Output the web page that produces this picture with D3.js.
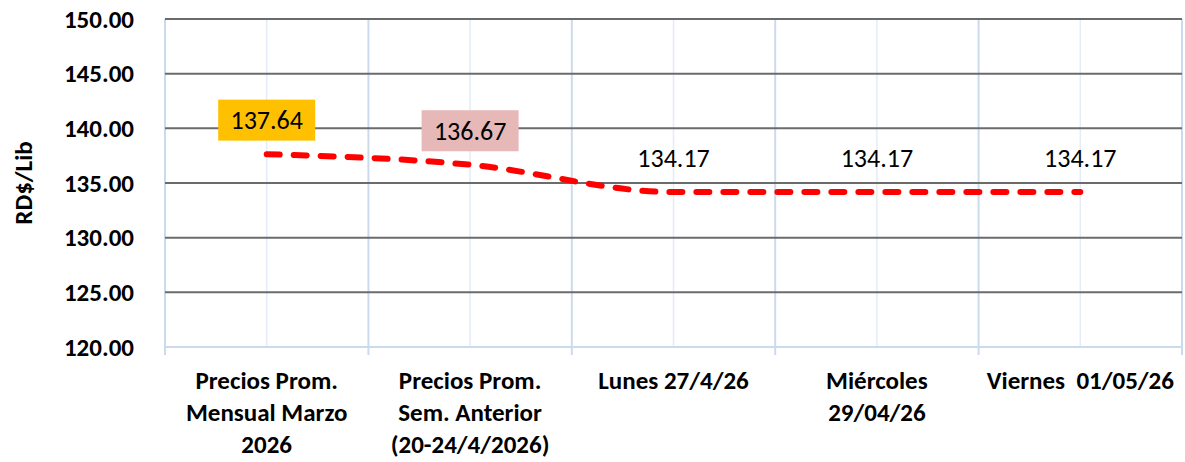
<!DOCTYPE html>
<html>
<head>
<meta charset="utf-8">
<script src="https://cdn.jsdelivr.net/npm/d3@7"></script>
<style>
  body { margin: 0; background: #fff; }
  svg { display: block; font-family: Carlito, Lato, "Open Sans", sans-serif; }
</style>
</head>
<body>
<div id="chart"></div>
<script>
// chart values
const categories = [
    ['Precios Prom.', 'Mensual Marzo', '2026'],
    ['Precios Prom.', 'Sem. Anterior', '(20-24/4/2026)'],
    ['Lunes 27/4/26'],
    ['Miércoles', '29/04/26'],
    ['Viernes  01/05/26']
];
const prices = [137.64, 136.67, 134.17, 134.17, 134.17];
const labelFills = ['#FFC000', '#E6B8B7', null, null, null];
const yTicks = [120, 125, 130, 135, 140, 145, 150];

const width = 1185, height = 462;
const margin = { top: 19, right: 3, bottom: 115, left: 165 };

const svg = d3.select('#chart')
    .append('svg')
    .attr('width', width)
    .attr('height', height);

const x = d3.scaleBand()
    .domain(d3.range(categories.length))
    .range([margin.left, width - margin.right])
    .padding(0);

const y = d3.scaleLinear()
    .domain([120, 150])
    .range([height - margin.bottom, margin.top]);

const cx = i => x(i) + x.bandwidth() / 2;

// vertical grid: category edges a bit darker than centers
let edges = d3.range(categories.length + 1).map(i => i < categories.length ? x(i) : x.range()[1]);

svg.append('g')
    .selectAll('line')
    .data(d3.range(categories.length))
    .join('line')
    .attr('x1', d => cx(d)).attr('x2', d => cx(d))
    .attr('y1', y(150)).attr('y2', y(120))
    .attr('stroke', '#E4ECF7')
    .attr('stroke-width', 1.5);

svg.append('g')
    .selectAll('line')
    .data(edges)
    .join('line')
    .attr('x1', d => d).attr('x2', d => d)
    .attr('y1', y(150)).attr('y2', y(120) + 8)
    .attr('stroke', '#CCDAEE')
    .attr('stroke-width', 2);

// horizontal grid
svg.append('g')
    .selectAll('line')
    .data(yTicks.filter(d => d > 120))
    .join('line')
    .attr('x1', margin.left).attr('x2', width - margin.right)
    .attr('y1', d => y(d)).attr('y2', d => y(d))
    .attr('stroke', '#6B6B6B')
    .attr('stroke-width', 2);

// bottom axis line
svg.append('line')
    .attr('x1', margin.left).attr('x2', width - margin.right)
    .attr('y1', y(120)).attr('y2', y(120))
    .attr('stroke', '#CCDAEE')
    .attr('stroke-width', 2);

// y labels
svg.append('g')
    .attr('font-size', 25)
    .attr('font-weight', 'bold')
    .attr('text-anchor', 'end')
    .selectAll('text')
    .data(yTicks)
    .join('text')
    .attr('x', 134)
    .attr('y', d => y(d))
    .attr('dy', '0.35em')
    .text(d => d.toFixed(2));

svg.append('text')
    .attr('transform', `translate(32, ${(y(150) + y(120)) / 2}) rotate(-90)`)
    .attr('text-anchor', 'middle')
    .attr('font-size', 25)
    .attr('font-weight', 'bold')
    .text('RD$/Lib');

// x labels
svg.append('g')
    .attr('font-size', 25)
    .attr('font-weight', 'bold')
    .attr('text-anchor', 'middle')
    .selectAll('text')
    .data(categories)
    .join('text')
    .attr('xml:space', 'preserve')
    .attr('x', (d, i) => cx(i))
    .attr('y', 389)
    .selectAll('tspan')
    .data(d => d)
    .join('tspan')
    .attr('x', function () { return this.parentNode.getAttribute('x'); })
    .attr('dy', (d, i) => i === 0 ? 0 : 32)
    .text(d => d.replace(/ {2}/g, ' \u00A0'));

// price line
const line = d3.line()
    .x((d, i) => cx(i))
    .y(d => y(d))
    .curve(d3.curveMonotoneX);

svg.append('path')
    .datum(prices)
    .attr('d', line)
    .attr('fill', 'none')
    .attr('stroke', '#FF0000')
    .attr('stroke-width', 6)
    .attr('stroke-linecap', 'round')
    .attr('stroke-dasharray', '13,14');

// data labels
const labels = svg.append('g')
    .selectAll('g')
    .data(prices.map((v, i) => ({ v, i })))
    .join('g')
    .attr('transform', d => `translate(${cx(d.i)}, ${y(d.v) - 34})`);

labels.filter(d => labelFills[d.i])
    .append('rect')
    .attr('x', -48.5).attr('y', -20.5)
    .attr('width', 97).attr('height', 41)
    .attr('fill', d => labelFills[d.i]);

labels.append('text')
    .attr('text-anchor', 'middle')
    .attr('dy', '0.35em')
    .attr('font-size', 26)
    .text(d => d.v.toFixed(2));
</script>
</body>
</html>
